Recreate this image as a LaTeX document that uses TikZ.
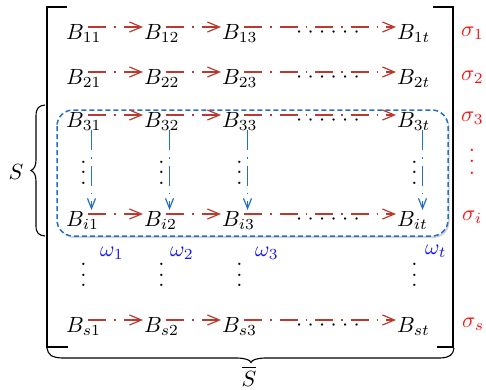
\documentclass[tikz,border=0pt]{standalone}
\usetikzlibrary{arrows.meta,calc,shadows}
\definecolor{arrred}{RGB}{187,58,48}
\definecolor{boxblue}{RGB}{38,112,196}
\definecolor{sigred}{RGB}{245,20,20}
\definecolor{omblue}{RGB}{20,20,240}
\newcommand\tx[1]{\scalebox{2.2}{#1}}
\newcommand\sixdots{$\cdotp\kern0.8pt\cdotp\kern0.8pt\cdotp\kern0.8pt\cdotp\kern0.8pt\cdotp\kern0.8pt\cdotp$}
\newcommand\threevdots[1]{\vbox{\baselineskip=#1\lineskiplimit=-20pt\hbox{.}\hbox{.}\hbox{.}}}
\tikzset{
  rowarrow/.style={draw=arrred, line width=1.2pt, dash pattern=on 18pt off 8pt on 1.5pt off 8pt,
    -{Straight Barb[length=12pt,width=10pt]}},
  colarrow/.style={draw=boxblue, line width=1.2pt, dash pattern=on 20pt off 7pt on 1.5pt off 7pt,
    -{Straight Barb[length=10pt,width=8pt]}},
  bracket/.style={draw=black, line width=1.6pt},
  bracestyle/.style={draw=black, line width=1.1pt},
  sig/.style={anchor=base west, text=sigred},
  om/.style={anchor=base west, text=omblue},
}
\begin{document}
\begin{tikzpicture}[x=1pt,y=-1pt, every node/.style={inner sep=0pt}]
\useasboundingbox (0,0) rectangle (486,389);
% dashed group box
\path[draw=boxblue, fill=white, line width=1.5pt, dash pattern=on 5pt off 3pt, rounded corners=16pt,
  drop shadow={opacity=0.35,shadow xshift=1.5pt,shadow yshift=-2pt}] (57,110) rectangle (448,236);
% matrix entries
\foreach \r/\y in {1/39,2/84,3/127,i/226,s/332}{
  \foreach \c/\x in {1/66,2/144,3/222,t/397}{
    \node[anchor=base west] (b\r\c) at (\x,\y) {\tx{$B_{\r\c}$}};
  }
  \node (h\r) at (328,\y-6) {\tx{\sixdots}};
  \draw[rowarrow] ($(b\r1.base west)+(22,-12)$) -- ($(b\r2.base west)+(-1,-12)$);
  \draw[rowarrow] ($(b\r2.base west)+(22,-12)$) -- ($(b\r3.base west)+(-1,-12)$);
  \draw[rowarrow] ($(b\r3.base west)+(22,-12)$) -- ($(b\r t.base west)+(-1,-12)$);
}
% vertical dots and column arrows
\foreach \c/\x in {1/66,2/144,3/222,t/397}{
  \node (u\c) at (\x+17.5,172.5) {\tx{\threevdots{4.77pt}}};
  \node (l\c) at (\x+17.5,275) {\tx{\threevdots{4.77pt}}};
  \draw[colarrow] ($(b3\c.base west)+(25.5,3)$) -- ($(bi\c.base west)+(25.5,-16)$);
}
% omega labels
\node[om] (w1) at (100,256) {\tx{$\omega_1$}};
\node[om] (w2) at (170,256) {\tx{$\omega_2$}};
\node[om] (w3) at (255,256) {\tx{$\omega_3$}};
\node[om] (wt) at (425,254) {\tx{$\omega_t$}};
% sigma labels
\node[sig] (s1) at (461,36) {\tx{$\sigma_1$}};
\node[sig] (s2) at (461,80) {\tx{$\sigma_2$}};
\node[sig] (s3) at (461,121) {\tx{$\sigma_3$}};
\node[text=sigred] (sd) at (472,161.5) {\tx{\threevdots{5.2pt}}};
\node[sig] (si) at (462,220) {\tx{$\sigma_i$}};
\node[sig] (ss) at (462,327) {\tx{$\sigma_s$}};
% brackets
\draw[bracket] (67,7) -- (47,7) -- (47,347) -- (68,347);
\draw[bracket] (433,7) -- (453,7) -- (453,347) -- (437,347);
% left brace and S
\draw[bracestyle] (45,105) .. controls (39,105.5) and (36,108) .. (36,116) -- (36,160)
  .. controls (36,166) and (34,169) .. (31,170.5) .. controls (34,172) and (36,175) .. (36,181)
  -- (36,226) .. controls (36,233) and (39,235.5) .. (45,236);
\node (S) at (16,172) {\tx{$S$}};
% bottom brace and S-bar
\draw[bracestyle] (47,348) .. controls (48,355) and (52,357.5) .. (62,358) -- (238,358)
  .. controls (246,358.5) and (250,360) .. (251,362.5) .. controls (252,360) and (256,358.5) .. (264,358)
  -- (440,358) .. controls (450,357.5) and (453,355) .. (454,348);
\node[anchor=base] (Sbar) at (249,386) {\tx{$\overline{S}$}};
\end{tikzpicture}
\end{document}
